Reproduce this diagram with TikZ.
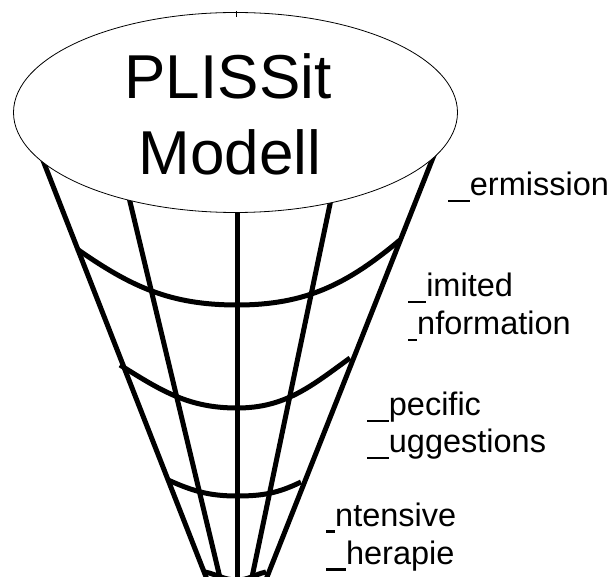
\documentclass[tikz,border=0pt]{standalone}
\usepackage{fontspec}
\setmainfont{Liberation Sans}
\newcommand\missglyph[1]{\setbox0\hbox{#1}\rule[-6.5pt]{\wd0}{2.8pt}}
\begin{document}
\begin{tikzpicture}[x=1pt,y=-1pt,
  funnel/.style={line width=5pt, line cap=butt},
  band/.style={line width=5pt},
  lbl/.style={anchor=base west, inner sep=0pt, font=\fontsize{32.5}{38}\selectfont},
  title/.style={anchor=base, inner sep=0pt, font=\fontsize{62}{76}\selectfont}]
\useasboundingbox (0,0) rectangle (611,577);
\clip (0,0) rectangle (611,577);
% funnel ribs
\coordinate (olT) at (35,140);  \coordinate (olB) at (208,582);
\coordinate (ilT) at (126,185); \coordinate (ilB) at (221,582);
\coordinate (cT)  at (237,190); \coordinate (cB)  at (237,582);
\coordinate (irT) at (334,185); \coordinate (irB) at (251,582);
\coordinate (orT) at (440,140); \coordinate (orB) at (265,582);
\draw[funnel] (olT) -- (olB);
\draw[funnel] (ilT) -- (ilB);
\draw[funnel] (cT) -- (cB);
\draw[funnel] (irT) -- (irB);
\draw[funnel] (orT) -- (orB);
% bands
\coordinate (b1L) at (77,249);  \coordinate (b1M) at (237,305); \coordinate (b1R) at (400,240);
\coordinate (b2L) at (120,365); \coordinate (b2M) at (237,408); \coordinate (b2R) at (350,358);
\coordinate (b3L) at (168,480); \coordinate (b3M) at (237,496); \coordinate (b3R) at (301,482);
\coordinate (b4L) at (205,572); \coordinate (b4M) at (237,580); \coordinate (b4R) at (266,572);
\draw[band] (b1L) to[out=-35,in=180] (b1M) to[out=0,in=-140] (b1R);
\draw[band] (b2L) to[out=-32,in=180] (b2M) to[out=0,in=-144] (b2R);
\draw[band] (b3L) to[out=-24,in=180] (b3M) to[out=0,in=-154] (b3R);
\draw[band] (b4L) to[out=-12,in=180] (b4M) to[out=0,in=-168] (b4R);
% top ellipse
\coordinate (ec) at (235.5,112.5);
\draw[fill=white, line width=0.8pt] (ec) ellipse [x radius=222, y radius=100];
\draw[line width=0.8pt] (236,11) -- (236,17);
\node[title] (t1) at (228,99) {PLISSit};
\node[title] (t2) at (230,175) {Modell};
% labels
\node[lbl] (p)  at (448,196) {\missglyph{P}ermission};
\node[lbl] (l1) at (408,297) {\missglyph{L}imited};
\node[lbl] (l2) at (408,335) {\missglyph{I}nformation};
\node[lbl] (s1) at (367,416) {\missglyph{S}pecific};
\node[lbl] (s2) at (367,453) {\missglyph{S}uggestions};
\node[lbl] (i1) at (326,526) {\missglyph{I}ntensive};
\node[lbl] (i2) at (326,564) {\missglyph{T}herapie};
\end{tikzpicture}
\end{document}
